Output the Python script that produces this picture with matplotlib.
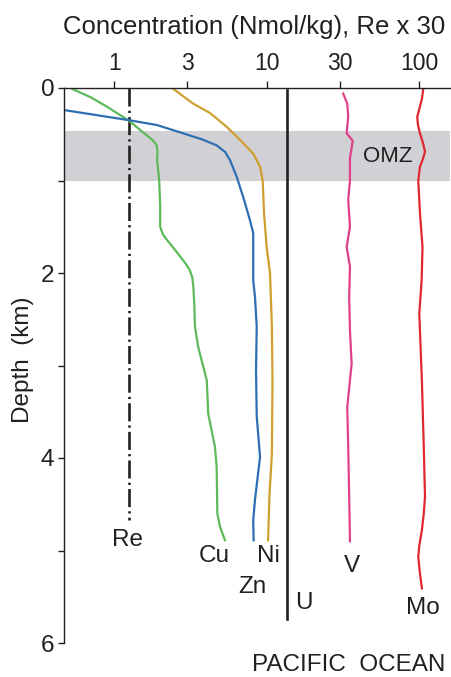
import matplotlib
matplotlib.use("Agg")
import matplotlib.pyplot as plt

plt.rcParams['font.family'] = ['Liberation Sans', 'DejaVu Sans']
plt.rcParams['lines.scale_dashes'] = False

# Depth profiles (km) and concentrations (nmol/kg; Re scaled x30)
re_depth = [0.0, 4.67]
re_conc = [1.25, 1.25]

cu_depth = [0.01, 0.1, 0.2, 0.35, 0.45, 0.51, 0.57, 0.62, 0.7, 0.78, 1.0, 1.28,
            1.5, 1.58, 1.64, 1.72, 1.82, 1.9, 1.97, 2.05, 2.15, 2.35, 2.58, 2.8,
            3.01, 3.16, 3.52, 3.88, 4.09, 4.6, 4.74, 4.89]
cu_conc = [0.53, 0.7, 0.89, 1.24, 1.47, 1.63, 1.80, 1.90, 1.92, 1.91, 1.97, 2.0,
           2.0, 2.08, 2.21, 2.42, 2.70, 2.94, 3.13, 3.25, 3.30, 3.35, 3.38, 3.55,
           3.83, 4.04, 4.13, 4.57, 4.69, 4.74, 4.93, 5.32]

zn_depth = [0.24, 0.31, 0.35, 0.40, 0.49, 0.56, 0.62, 0.69, 0.78, 0.96, 1.18, 1.43,
            1.57, 2.08, 2.26, 2.58, 3.05, 3.55, 3.99, 4.45, 4.67, 4.89]
zn_conc = [0.475, 0.89, 1.27, 1.90, 2.83, 3.83, 4.69, 5.32, 5.74, 6.35, 7.01, 7.76,
           8.15, 8.15, 8.37, 8.59, 8.5, 8.59, 9.03, 8.37, 8.15, 8.2]

ni_depth = [0.01, 0.17, 0.27, 0.42, 0.56, 0.71, 0.85, 1.0, 1.35, 1.72, 2.0, 2.58,
            3.16, 3.95, 4.42, 4.89]
ni_conc = [2.44, 3.30, 4.24, 5.46, 6.67, 8.15, 9.03, 9.4, 9.59, 9.98, 10.5, 10.8,
           10.9, 10.8, 10.4, 10.2]

u_depth = [0.02, 5.74]
u_conc = [13.6, 13.6]

v_depth = [0.06, 0.17, 0.31, 0.49, 0.57, 0.76, 1.0, 1.21, 1.5, 1.72, 1.93, 2.26,
           2.62, 2.98, 3.45, 3.88, 4.42, 4.9]
v_conc = [31.7, 33.7, 34.2, 33.4, 36.6, 35.1, 35.1, 34.2, 35.1, 33.4, 35.1, 34.7,
          35.1, 36.0, 33.7, 34.2, 34.7, 35.1]

mo_depth = [0.02, 0.12, 0.2, 0.31, 0.4, 0.49, 0.6, 0.69, 0.78, 0.85, 1.0, 1.35,
            1.72, 2.08, 2.44, 2.8, 3.16, 3.88, 4.42, 4.6, 4.78, 4.95, 5.07, 5.25,
            5.41]
mo_conc = [106, 104, 101, 97, 98, 101, 106, 109, 105, 101, 98.5, 101,
           105, 103.6, 100, 102, 104, 107, 109, 107, 104, 100, 98.5, 101,
           104]

omz_top, omz_bottom = 0.47, 1.0

x_ticks = [1, 3, 10, 30, 100]
x_ticklabels = ["1", "3", "10", "30", "100"]
y_ticks = [0, 2, 4, 6]
y_minor = [1, 3, 5]

INK = "#231F20"

fig = plt.figure(figsize=(4.52, 6.77), dpi=100)
ax = fig.add_axes([64 / 452, 1 - 643 / 677, (450 - 64) / 452, (643 - 88) / 677])

ax.set_xscale("log")
ax.set_xlim(0.468, 159)
ax.set_ylim(6, 0)

ax.axhspan(omz_top, omz_bottom, color="#D1D1D5", lw=0, zorder=0)

ax.plot(re_conc, re_depth, color=INK, lw=1.9, dashes=(13, 3, 1.6, 3))
ax.plot(cu_conc, cu_depth, color="#5DB95A", lw=1.6)
ax.plot(zn_conc, zn_depth, color="#2C6FB2", lw=1.6)
ax.plot(ni_conc, ni_depth, color="#CFA02F", lw=1.6)
ax.plot(u_conc, u_depth, color=INK, lw=1.9)
ax.plot(v_conc, v_depth, color="#E03F8A", lw=1.6)
ax.plot(mo_conc, mo_depth, color="#E0262F", lw=1.6)

fs_lab = 17.5
labels = [("Re", 1.23, 4.89), ("Cu", 4.50, 5.06), ("Ni", 10.2, 5.06),
          ("Zn", 8.06, 5.39), ("U", 17.5, 5.57), ("V", 36.2, 5.17),
          ("Mo", 105.5, 5.62)]
for txt, x, y in labels:
    ax.text(x, y, txt, ha="center", va="center", fontsize=fs_lab, color=INK)
ax.text(61.8, 0.74, "OMZ", ha="center", va="center", fontsize=16, color=INK)

ax.xaxis.tick_top()
ax.set_xticks(x_ticks)
ax.set_xticklabels(x_ticklabels)
ax.xaxis.set_minor_locator(matplotlib.ticker.NullLocator())
ax.set_yticks(y_ticks)
ax.set_yticks(y_minor, minor=True)
ax.tick_params(axis="x", which="major", direction="out", length=5, width=1,
               color=INK, labelsize=16.5, labelcolor=INK, pad=4)
ax.tick_params(axis="y", which="both", direction="out", length=4, width=1,
               color=INK, labelsize=17.5, labelcolor=INK, pad=3)

for side in ("right", "bottom"):
    ax.spines[side].set_visible(False)
for side in ("top", "left"):
    ax.spines[side].set_color(INK)
    ax.spines[side].set_linewidth(1.0)

fig.text(23 / 452, 1 - 360 / 677, "Depth  (km)", rotation=90, ha="center",
         va="center", fontsize=17.5, color=INK)
fig.text(254 / 452, 1 - 27 / 677, "Concentration (Nmol/kg), Re x 30", ha="center",
         va="center", fontsize=18.5, color=INK)
fig.text(349 / 452, 1 - 665 / 677, "PACIFIC  OCEAN", ha="center", va="center",
         fontsize=17.5, color=INK)

fig.savefig("out.png", dpi=100)
